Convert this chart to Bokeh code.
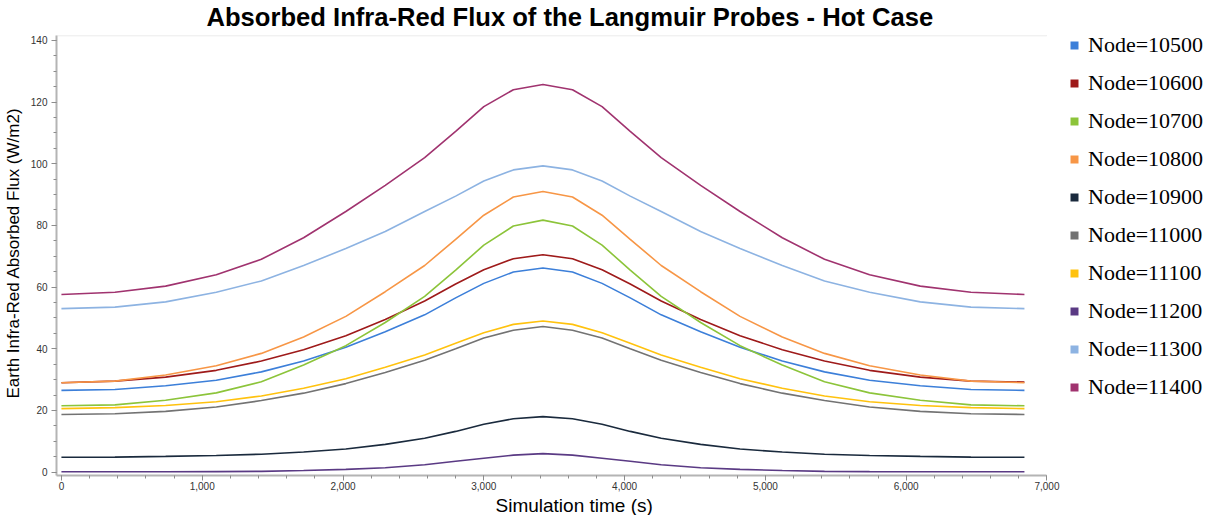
from bokeh.plotting import figure
from bokeh.models import (Range1d, Legend, LegendItem, NumeralTickFormatter,
                          SingleIntervalTicker, BoxAnnotation, Title)
from bokeh.embed import file_html
from bokeh.resources import INLINE

# ---- data ----
time_s = [0, 380, 740, 1100, 1420, 1720, 2020, 2300, 2580, 2800, 3000, 3210, 3420,
          3630, 3840, 4040, 4260, 4540, 4820, 5120, 5420, 5740, 6100, 6460, 6840]

node_10500 = [26.5, 26.8, 28.0, 29.8, 32.5, 36.0, 40.5, 45.5, 51.0, 56.5, 61.2, 64.9, 66.2,
              64.9, 61.2, 56.5, 51.0, 45.5, 40.5, 36.0, 32.5, 29.8, 28.0, 26.8, 26.5]
node_10600 = [29.0, 29.5, 30.8, 33.0, 36.0, 39.7, 44.2, 49.5, 55.5, 61.0, 65.6, 69.2, 70.5,
              69.2, 65.6, 61.0, 55.5, 49.5, 44.2, 39.7, 36.0, 33.0, 30.8, 29.5, 29.2]
node_10700 = [21.5, 21.8, 23.3, 25.7, 29.3, 34.7, 41.0, 48.5, 57.0, 65.5, 73.6, 79.8, 81.7,
              79.8, 73.6, 65.5, 57.0, 48.5, 41.0, 34.7, 29.3, 25.7, 23.3, 21.8, 21.5]
node_10800 = [29.0, 29.5, 31.5, 34.5, 38.5, 43.8, 50.5, 58.5, 67.0, 75.5, 83.3, 89.2, 91.0,
              89.2, 83.3, 75.5, 67.0, 58.5, 50.5, 43.8, 38.5, 34.5, 31.5, 29.5, 29.0]
node_10900 = [4.8, 4.85, 5.1, 5.4, 5.8, 6.5, 7.5, 9.0, 11.0, 13.2, 15.5, 17.3, 18.0,
              17.3, 15.5, 13.2, 11.0, 9.0, 7.5, 6.5, 5.8, 5.4, 5.1, 4.85, 4.8]
node_11000 = [18.7, 18.9, 19.7, 21.1, 23.2, 25.6, 28.7, 32.3, 36.3, 40.0, 43.5, 46.0, 47.2,
              46.0, 43.5, 40.0, 36.3, 32.3, 28.7, 25.6, 23.2, 21.1, 19.7, 18.9, 18.7]
node_11100 = [20.6, 20.9, 21.6, 22.8, 24.7, 27.2, 30.3, 34.0, 38.0, 41.8, 45.2, 47.9, 49.0,
              47.9, 45.2, 41.8, 38.0, 34.0, 30.3, 27.2, 24.7, 22.8, 21.6, 20.9, 20.6]
node_11200 = [0.1, 0.1, 0.1, 0.15, 0.25, 0.5, 0.9, 1.4, 2.4, 3.5, 4.5, 5.5, 6.0,
              5.5, 4.5, 3.5, 2.4, 1.4, 0.9, 0.5, 0.25, 0.15, 0.1, 0.1, 0.1]
node_11300 = [53.0, 53.5, 55.2, 58.3, 62.0, 67.0, 72.5, 78.0, 84.5, 89.5, 94.4, 98.0, 99.3,
              98.0, 94.4, 89.5, 84.5, 78.0, 72.5, 67.0, 62.0, 58.3, 55.2, 53.5, 53.0]
node_11400 = [57.6, 58.3, 60.3, 64.0, 69.0, 76.0, 84.5, 93.0, 102.0, 110.5, 118.5, 124.0, 125.7,
              124.0, 118.5, 110.5, 102.0, 93.0, 84.5, 76.0, 69.0, 64.0, 60.3, 58.3, 57.6]

series_names = ["Node=10500", "Node=10600", "Node=10700", "Node=10800", "Node=10900",
                "Node=11000", "Node=11100", "Node=11200", "Node=11300", "Node=11400"]
series_values = [node_10500, node_10600, node_10700, node_10800, node_10900,
                 node_11000, node_11100, node_11200, node_11300, node_11400]
series_colors = ["#3c7fd9", "#9e1a1a", "#8cc43a", "#f79646", "#1a2a3d",
                 "#737373", "#ffc20e", "#5a3a84", "#8db3e2", "#a0336f"]

X_MIN, X_MAX = -35, 7000
Y_MIN, Y_TOP = -1.1, 141.5

# frame spans to the right edge; extra x/y room holds the legend
p = figure(width=1215, height=515, output_backend="svg", toolbar_location=None,
           x_range=Range1d(X_MIN, 8197), y_range=Range1d(Y_MIN, 143.2),
           min_border_left=53, min_border_right=0, min_border_top=30,
           min_border_bottom=38, background_fill_color="white",
           border_fill_color="white")

p.title.text = "Absorbed Infra-Red Flux of the Langmuir Probes - Hot Case"
p.title.align = "left"
p.title.offset = 150
p.title.text_font = "Liberation Sans"
p.title.text_font_size = "25.6px"
p.title.text_font_style = "bold"
p.title.text_color = "#000000"
p.title.standoff = 0

p.xgrid.visible = False
p.ygrid.visible = False
p.outline_line_color = None

p.xaxis.ticker = SingleIntervalTicker(interval=1000, num_minor_ticks=5)
p.yaxis.ticker = SingleIntervalTicker(interval=20, num_minor_ticks=4)
p.xaxis.formatter = NumeralTickFormatter(format="0,0")
p.xaxis.bounds = (X_MIN, X_MAX)
p.yaxis.bounds = (Y_MIN, Y_TOP)
p.yaxis.axis_label = "Earth Infra-Red Absorbed Flux (W/m2)"

for ax in (p.xaxis, p.yaxis):
    ax.axis_line_color = "#b4b4b4"
    ax.axis_line_width = 2
    ax.major_tick_line_color = "#8c8c8c"
    ax.minor_tick_line_color = "#8c8c8c"
    ax.major_tick_out = 5
    ax.major_tick_in = 0
    ax.minor_tick_out = 3
    ax.minor_tick_in = 0
    ax.major_label_text_font = "Liberation Sans"
    ax.major_label_text_font_size = "10px"
    ax.major_label_text_color = "#333333"
    ax.axis_label_text_font = "Liberation Sans"
    ax.axis_label_text_font_style = "normal"
    ax.axis_label_text_color = "#000000"

p.yaxis.axis_label_text_font_size = "17px"
p.yaxis.axis_label_standoff = 5
p.xaxis.major_label_standoff = 1
p.yaxis.major_label_standoff = 4

# x-axis title, placed under the data part of the frame
x_title = Title(text="Simulation time (s)", align="left", offset=439,
                text_font="Liberation Sans", text_font_size="19px",
                text_font_style="normal", text_color="#000000", standoff=0)
p.add_layout(x_title, "below")

# thin top border of the plot area (only over the data width)
p.add_layout(BoxAnnotation(left=X_MIN, right=X_MAX, bottom=Y_TOP, top=Y_TOP,
                           fill_alpha=0, line_color="#d9d9d9", line_width=1))

items = []
for name, vals, col in zip(series_names, series_values, series_colors):
    p.line(time_s, vals, line_color=col, line_width=1.6)
    sq = p.quad(left=time_s[:1], right=time_s[:1], top=vals[:1], bottom=vals[:1],
                fill_color=col, line_color=None, visible=False)
    items.append(LegendItem(label=name, renderers=[sq]))

legend = Legend(items=items, location=(1013, 75), padding=0, margin=0, spacing=12,
                glyph_width=10, glyph_height=10, label_standoff=9,
                label_text_font="Liberation Serif", label_text_font_size="22px",
                label_text_color="#000000", border_line_color=None,
                background_fill_alpha=0, inactive_fill_alpha=0)
p.add_layout(legend)

open("out.html", "w").write(file_html(p, INLINE))
